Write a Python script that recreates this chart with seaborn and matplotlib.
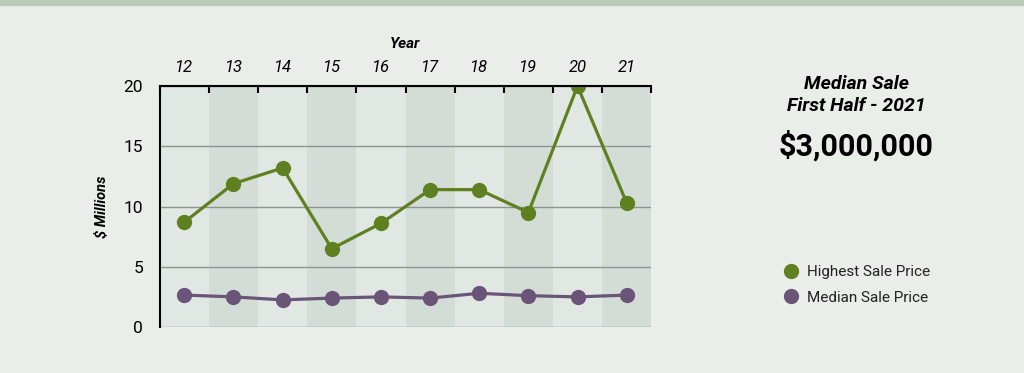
import numpy as np
import pandas as pd
import matplotlib
matplotlib.use("Agg")
import matplotlib.pyplot as plt
from matplotlib.lines import Line2D
from matplotlib.patches import Rectangle
import seaborn as sns

years = ["12", "13", "14", "15", "16", "17", "18", "19", "20", "21"]
highest = [8.7, 11.9, 13.2, 6.5, 8.6, 11.4, 11.4, 9.5, 20.0, 10.3]
median = [2.65, 2.5, 2.25, 2.4, 2.5, 2.4, 2.8, 2.6, 2.5, 2.65]
series_names = ["Highest Sale Price", "Median Sale Price"]
y_ticks = [0, 5, 10, 15, 20]

green = "#5f8021"
purple = "#6a5579"
bg = "#e9eee9"

#long form table for seaborn
df = pd.DataFrame({
    "pos": list(range(len(years))) * 2,
    "value": highest + median,
    "series": [series_names[0]] * len(years) + [series_names[1]] * len(years),
})

sns.set_style("white")
plt.rcParams["font.family"] = ["Roboto", "DejaVu Sans"]
plt.rcParams["text.color"] = "black"
plt.rcParams["xtick.color"] = "black"
plt.rcParams["ytick.color"] = "black"
plt.rcParams["xtick.labelcolor"] = "black"
plt.rcParams["ytick.labelcolor"] = "black"

fig = plt.figure(figsize=(10.24, 3.73), dpi=100, facecolor=bg)
ax = fig.add_axes([0.156, 0.1233, 0.48, 0.6461])
ax.set_facecolor("#e1e7e2")

#top stripe
fig.patches.append(Rectangle((0, 0.987), 1, 0.013, transform=fig.transFigure,
                             color="#b9cbb9", zorder=0))

#alternating column bands
for i in range(len(years)):
    if i % 2 == 1:
        ax.axvspan(i - 0.5, i + 0.5, color="#d3ddd6", zorder=0, lw=0)

for y in y_ticks:
    ax.axhline(y, color="#8e948f", lw=1.0, zorder=1)

sns.lineplot(data=df, x="pos", y="value", hue="series",
             palette=[green, purple], marker="o", markersize=11,
             markeredgewidth=0, linewidth=2.3, ax=ax, legend=False, zorder=3)

ax.set_xlim(-0.5, len(years) - 0.5)
ax.set_ylim(0, 20)
ax.set_xticks(range(len(years)))
ax.set_xticklabels(years, fontsize=12, style="italic")
ax.set_xticks(np.arange(-0.5, len(years) - 0.4, 1), minor=True)
ax.xaxis.tick_top()
ax.tick_params(axis="x", which="major", length=0, pad=8)
ax.tick_params(axis="x", which="minor", direction="in", length=5, width=1.5,
               color="black", top=True, bottom=False)
ax.set_yticks(y_ticks)
ax.set_yticklabels([str(v) for v in y_ticks], fontsize=12.5)
ax.tick_params(axis="y", length=0, pad=12)
for lbl in ax.get_yticklabels():
    lbl.set_clip_on(False)

ax.set_xlabel("")
ax.set_ylabel("")
for s in ["right", "bottom"]:
    ax.spines[s].set_visible(False)
for s in ["top", "left"]:
    ax.spines[s].set_color("black")
    ax.spines[s].set_linewidth(1.5)
ax.spines["top"].set_zorder(5)

fig.text(0.3955, 0.882, "Year", ha="center", va="center", fontsize=11,
         weight="bold", style="italic")
fig.text(0.1, 0.445, "$ Millions", ha="center", va="center", fontsize=10.5,
         weight="bold", style="italic", rotation=90)

fig.text(0.836, 0.775, "Median Sale", ha="center", va="center", fontsize=14,
         weight="bold", style="italic")
fig.text(0.836, 0.716, "First Half - 2021", ha="center", va="center", fontsize=14,
         weight="bold", style="italic")
fig.text(0.836, 0.608, "$3,000,000", ha="center", va="center", fontsize=22,
         weight="bold")

handles = [Line2D([], [], ls="", marker="o", markersize=11, markeredgewidth=0, color=c)
           for c in [green, purple]]
fig.legend(handles, series_names, loc="center left", bbox_to_anchor=(0.748, 0.236),
           frameon=False, fontsize=11, handletextpad=0.3, labelspacing=0.75,
           handlelength=1.5, labelcolor="#222222")

fig.savefig("out.png", dpi=100, facecolor=bg)
